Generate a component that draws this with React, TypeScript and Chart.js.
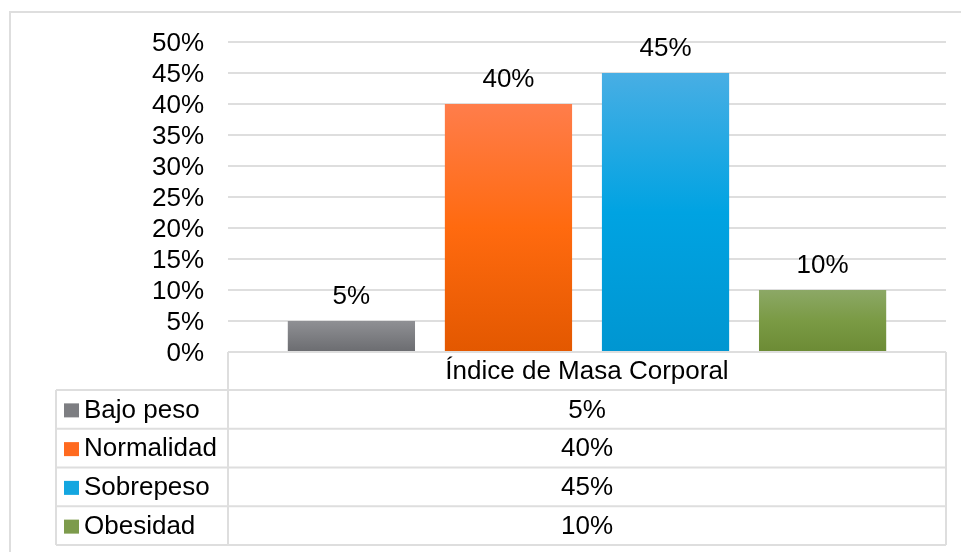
import React, { useEffect, useRef } from "react";
import { Chart, registerables } from "chart.js";

Chart.register(...registerables);

const categories = ["Índice de Masa Corporal"];
const seriesNames = ["Bajo peso", "Normalidad", "Sobrepeso", "Obesidad"];
const bajoPeso = [5];
const normalidad = [40];
const sobrepeso = [45];
const obesidad = [10];
const yTicks = [0, 5, 10, 15, 20, 25, 30, 35, 40, 45, 50];

const FONT = "'Liberation Sans', Arial, sans-serif";
const gradStops: string[][] = [
  ["#8f9094", "#7d7e82", "#6b6c70"],
  ["#ff7d4b", "#ff6a0f", "#e35800"],
  ["#48aee4", "#00a3e2", "#0096d1"],
  ["#8ca866", "#7a9a44", "#6c8b35"],
];
const keyColors = ["#7d7e82", "#ff6a1f", "#13a6e0", "#7d9b4c"];
const lineColor = "#dedede";

export default function App() {
  const ref = useRef<HTMLCanvasElement>(null);
  useEffect(() => {
    const canvas = ref.current!;
    const seriesData = [bajoPeso, normalidad, sobrepeso, obesidad];

    const makeBg = (i: number) => (ctx: any) => {
      const chart = ctx.chart;
      const ys = chart.scales && chart.scales.y;
      if (!ys || !chart.chartArea) return gradStops[i][1];
      const top = ys.getPixelForValue(ctx.raw ?? 0);
      const bottom = ys.getPixelForValue(0);
      if (!isFinite(top) || bottom - top < 1) return gradStops[i][1];
      const g = chart.ctx.createLinearGradient(0, top, 0, bottom);
      g.addColorStop(0, gradStops[i][0]);
      g.addColorStop(0.5, gradStops[i][1]);
      g.addColorStop(1, gradStops[i][2]);
      return g;
    };

    const tablePlugin = {
      id: "tablePlugin",
      afterDraw(chart: any) {
        const c = chart.ctx;
        const area = chart.chartArea;
        c.save();
        // outer border
        c.strokeStyle = lineColor;
        c.lineWidth = 2;
        c.beginPath();
        c.moveTo(10, 560);
        c.lineTo(10, 12);
        c.lineTo(970, 12);
        c.stroke();

        // data labels
        c.fillStyle = "#000";
        c.font = `26px ${FONT}`;
        c.textAlign = "center";
        c.textBaseline = "alphabetic";
        chart.data.datasets.forEach((ds: any, i: number) => {
          const meta = chart.getDatasetMeta(i);
          meta.data.forEach((bar: any, j: number) => {
            c.fillText(`${ds.data[j]}%`, bar.x, bar.y - 17);
          });
        });

        // data table
        const left = area.left;
        const right = area.right;
        const top = area.bottom;
        const headerH = 38;
        const rowH = 38.75;
        const keyLeft = 56;
        const rowsTop = top + headerH;
        const rowsBottom = rowsTop + rowH * seriesNames.length;
        c.strokeStyle = lineColor;
        c.lineWidth = 2;
        c.beginPath();
        c.moveTo(left, top);
        c.lineTo(left, rowsBottom);
        c.moveTo(right, top);
        c.lineTo(right, rowsBottom);
        c.moveTo(keyLeft, rowsTop);
        c.lineTo(keyLeft, rowsBottom);
        for (let r = 0; r <= seriesNames.length; r++) {
          const y = rowsTop + rowH * r;
          c.moveTo(keyLeft, y);
          c.lineTo(right, y);
        }
        c.stroke();

        c.fillStyle = "#000";
        c.textBaseline = "middle";
        c.textAlign = "center";
        const cx = (left + right) / 2;
        c.fillText(categories[0], cx, top + headerH / 2 + 1);
        seriesNames.forEach((name, r) => {
          const my = rowsTop + rowH * r + rowH / 2 + 1;
          c.fillStyle = keyColors[r];
          c.fillRect(64, my - 7, 15, 14);
          c.fillStyle = "#000";
          c.textAlign = "left";
          c.fillText(name, 84, my);
          c.textAlign = "center";
          c.fillText(`${seriesData[r][0]}%`, cx, my);
        });
        c.restore();
      },
    };

    const chart = new Chart(canvas, {
      type: "bar",
      data: {
        labels: categories,
        datasets: seriesNames.map((name, i) => ({
          label: name,
          data: seriesData[i],
          backgroundColor: makeBg(i),
          borderWidth: 0,
          categoryPercentage: 0.875,
          barPercentage: 0.81,
        })),
      },
      options: {
        animation: false,
        responsive: true,
        maintainAspectRatio: false,
        layout: { padding: { left: 10, right: 15, top: 42, bottom: 200 } },
        plugins: { legend: { display: false }, tooltip: { enabled: false } },
        scales: {
          x: { display: false },
          y: {
            min: 0,
            max: 50,
            afterFit: (s: any) => {
              s.width = 218;
            },
            afterBuildTicks: (s: any) => {
              s.ticks = yTicks.map((v) => ({ value: v }));
            },
            border: { display: false },
            grid: { color: lineColor, lineWidth: 2, drawTicks: false },
            ticks: {
              autoSkip: false,
              padding: 24,
              labelOffset: 2,
              color: "#000",
              font: { family: FONT, size: 26 },
              callback: (v: any) => `${v}%`,
            },
          },
        },
      },
      plugins: [tablePlugin],
    });
    return () => chart.destroy();
  }, []);

  return (
    <div
      style={{
        position: "absolute",
        left: 0,
        top: 0,
        width: 961,
        height: 552,
        background: "#fff",
      }}
    >
      <canvas ref={ref} />
    </div>
  );
}
